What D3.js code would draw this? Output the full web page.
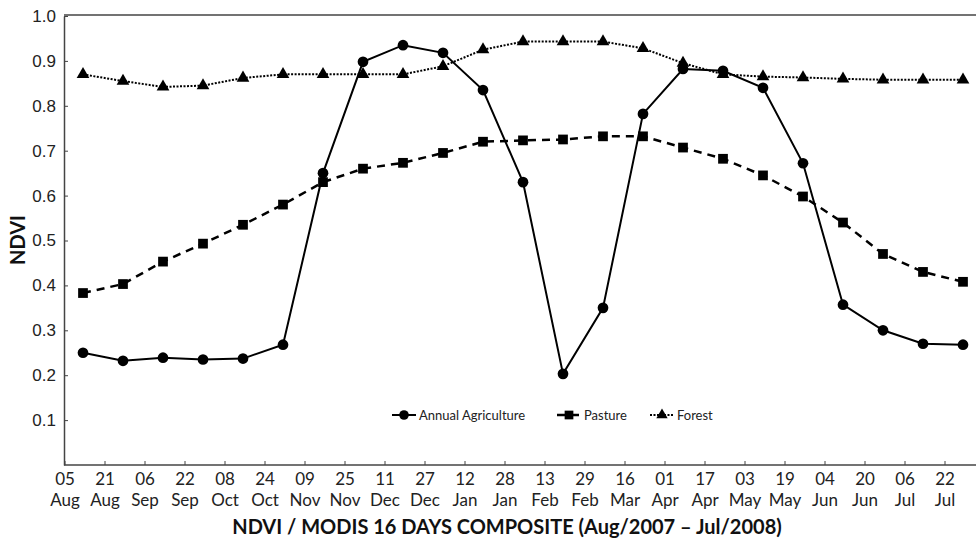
<!DOCTYPE html>
<html>
<head>
<meta charset="utf-8">
<script src="https://cdn.jsdelivr.net/npm/d3@7"></script>
<style>
  body { margin: 0; background: #fff; }
  svg { display: block; font-family: Lato, "Open Sans", sans-serif; }
</style>
</head>
<body>
<svg id="chart" width="976" height="543"></svg>
<script>
const days = ["05","21","06","22","08","24","09","25","11","27","12","28","13","29","16","01","17","03","19","04","20","06","22"];
const months = ["Aug","Aug","Sep","Sep","Oct","Oct","Nov","Nov","Dec","Dec","Jan","Jan","Feb","Feb","Mar","Apr","Apr","May","May","Jun","Jun","Jul","Jul"];

const agriculture = [0.250,0.232,0.239,0.235,0.237,0.268,0.650,0.898,0.935,0.918,0.835,0.630,0.203,0.350,0.782,0.882,0.878,0.840,0.672,0.357,0.300,0.270,0.268];
const pasture = [0.383,0.403,0.453,0.493,0.535,0.580,0.630,0.660,0.673,0.695,0.720,0.723,0.725,0.732,0.732,0.707,0.682,0.645,0.598,0.540,0.470,0.430,0.408];
const forest = [0.870,0.855,0.842,0.845,0.862,0.870,0.870,0.870,0.870,0.888,0.925,0.943,0.943,0.943,0.928,0.895,0.870,0.865,0.863,0.860,0.858,0.858,0.858];

const yTicks = [0.1,0.2,0.3,0.4,0.5,0.6,0.7,0.8,0.9,1.0];

const svg = d3.select("#chart");
const plotLeft = 64, plotTop = 15, plotBottom = 465, plotRight = 976;
const axisColor = "#444";

const x = d3.scaleLinear().domain([0, days.length - 1]).range([83, 963]);
const labelShift = -18;
const y = d3.scaleLinear().domain([0, 1]).range([plotBottom, plotTop + 1]);

// frame: left, top, bottom
svg.append("line").attr("x1", plotLeft).attr("x2", plotRight).attr("y1", plotTop).attr("y2", plotTop)
  .attr("stroke", axisColor).attr("stroke-width", 1.5);

const yAxis = svg.append("g").attr("transform", `translate(${plotLeft},0)`)
  .call(d3.axisLeft(y).tickValues(yTicks).tickFormat(d3.format(".1f")).tickSizeInner(-4).tickSizeOuter(0).tickPadding(8));
yAxis.select(".domain").attr("stroke", axisColor).attr("stroke-width", 1.5);
yAxis.selectAll(".tick line").attr("stroke", axisColor);
yAxis.selectAll(".tick text").attr("font-size", 17).attr("fill", "#222");

const xAxisG = svg.append("g");
xAxisG.append("line").attr("x1", plotLeft).attr("x2", plotRight).attr("y1", plotBottom).attr("y2", plotBottom)
  .attr("stroke", axisColor).attr("stroke-width", 1.5);
const xt = xAxisG.selectAll("g.xt").data(days).enter().append("g")
  .attr("transform", (d, i) => `translate(${x(i) + labelShift},0)`);
xt.append("line").attr("y1", plotBottom).attr("y2", plotBottom - 4).attr("stroke", axisColor);
xt.append("text").attr("y", plotBottom + 20).attr("text-anchor", "middle").attr("font-size", 17).attr("fill", "#222")
  .text(d => d);
xt.append("text").attr("y", plotBottom + 41).attr("text-anchor", "middle").attr("font-size", 17).attr("fill", "#222")
  .text((d, i) => months[i]);

// axis titles
svg.append("text").attr("transform", `translate(25,${(plotTop + plotBottom) / 2}) rotate(-90)`)
  .attr("text-anchor", "middle").attr("font-size", 20).attr("font-weight", "bold").attr("fill", "#111")
  .text("NDVI");
svg.append("text").attr("x", 507).attr("y", 534).attr("text-anchor", "middle")
  .attr("font-size", 20).attr("font-weight", "bold").attr("fill", "#111")
  .text("NDVI / MODIS 16 DAYS COMPOSITE (Aug/2007 – Jul/2008)");

const series = [
  { name: "Annual Agriculture", values: agriculture, dash: null, width: 2, symbol: d3.symbolCircle, size: 90 },
  { name: "Pasture", values: pasture, dash: "8,6", width: 2.5, symbol: d3.symbolSquare, size: 95 },
  { name: "Forest", values: forest, dash: "2,1.5", width: 2, symbol: d3.symbolTriangle, size: 70 }
];

const line = d3.line().x((d, i) => x(i)).y(d => y(d));

series.forEach(s => {
  svg.append("path").datum(s.values).attr("d", line).attr("fill", "none")
    .attr("stroke", "#000").attr("stroke-width", s.width).attr("stroke-dasharray", s.dash);
  svg.selectAll(null).data(s.values).enter().append("path")
    .attr("d", d3.symbol().type(s.symbol).size(s.size))
    .attr("transform", (d, i) => `translate(${x(i)},${y(d)})`)
    .attr("fill", "#000");
});

// legend
const legendX = [392, 557, 650];
series.forEach((s, k) => {
  const g = svg.append("g").attr("transform", `translate(${legendX[k]},415)`);
  g.append("line").attr("x1", 0).attr("x2", 24).attr("stroke", "#000")
    .attr("stroke-width", s.width).attr("stroke-dasharray", s.dash);
  g.append("path").attr("d", d3.symbol().type(s.symbol).size(s.size * 0.8))
    .attr("transform", "translate(12,0)").attr("fill", "#000");
  g.append("text").attr("x", 27).attr("y", 4.5).attr("font-size", 13).attr("fill", "#222").text(s.name);
});
</script>
</body>
</html>
